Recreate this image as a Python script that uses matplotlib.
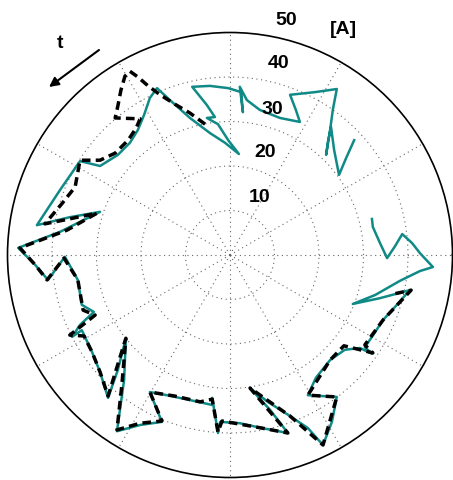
import numpy as np
import matplotlib
matplotlib.use("Agg")
import matplotlib.pyplot as plt

# current phasor trajectory, real / imaginary parts in A
meas_re = [27.9, 26.1, 24.5, 23.4, 22.7, 22.0, 21.6, 22.5, 23.1, 24.0,
           19.1, 13.5, 14.8, 15.7, 11.2, 6.7, 3.8, 2.2, 2.9, 2.5,
           -0.4, -4.5, -8.5, -5.2, -3.4, -5.2, -2.7, -0.4, 2.0, -1.1,
           -4.5, -9.0, -13.5, -16.4, -18.0, -19.3, -20.7, -22.5, -25.2, -29.2,
           -33.7, -38.2, -43.4, -36.0, -29.2, -38.2, -47.6, -43.8, -40.9, -37.1,
           -34.2, -33.3, -30.6, -33.7, -35.5, -33.3, -31.0, -29.2, -27.4, -25.2,
           -23.4, -23.8, -25.4, -20.2, -15.3, -18.0, -14.2, -9.0, -4.0, -4.0,
           -2.7, -2.2, 2.2, 7.2, 13.0, 9.0, 4.5, 8.5, 13.5, 17.5,
           20.9, 22.9, 24.0, 17.5, 19.3, 22.5, 25.8, 29.2, 31.9, 30.3,
           31.9, 34.4, 37.5, 40.4, 33.7, 27.6, 32.6, 38.2, 42.7, 45.6,
           42.7, 40.9, 38.7, 37.1, 35.3, 33.7, 32.1, 31.9]
meas_im = [25.8, 21.8, 18.0, 23.6, 28.8, 25.4, 22.5, 28.1, 32.6, 37.3,
           36.6, 36.0, 32.6, 29.9, 30.8, 32.6, 34.8, 37.8, 32.1, 36.6,
           37.5, 38.0, 37.8, 33.7, 31.0, 30.8, 29.4, 25.8, 22.7, 25.2,
           27.4, 30.8, 34.8, 37.5, 35.3, 31.5, 28.1, 25.2, 22.5, 20.0,
           21.1, 14.6, 6.7, 8.5, 9.7, 5.2, 1.6, -2.2, -5.6, -0.4,
           -5.6, -11.2, -12.8, -15.7, -18.4, -16.9, -21.8, -26.3, -32.1, -25.8,
           -18.7, -28.1, -39.6, -38.2, -37.5, -30.8, -31.5, -32.6, -33.7, -32.1,
           -40.0, -37.5, -37.8, -38.9, -40.0, -34.8, -29.9, -33.0, -36.2, -38.9,
           -42.7, -37.5, -31.9, -31.5, -27.6, -23.6, -21.3, -20.9, -22.2, -20.7,
           -18.4, -14.6, -11.2, -7.9, -9.7, -11.0, -9.0, -5.8, -3.6, -2.7,
           0.4, 2.7, 4.7, 2.0, -0.7, 2.7, 6.3, 8.1]

model_re = [-5.6, -9.0, -12.4, -15.7, -18.4, -20.7, -22.5, -23.6, -24.5, -25.2,
            -25.8, -20.2, -21.1, -22.9, -25.8, -29.2, -33.7, -34.8, -37.8, -41.6,
            -37.1, -29.9, -36.6, -47.2, -43.8, -41.1, -37.3, -34.2, -33.0, -30.3,
            -36.0, -32.8, -31.0, -29.2, -27.4, -23.4, -24.3, -25.4, -20.2, -15.3,
            -18.0, -12.4, -6.7, -4.0, -2.7, -1.8, 7.2, 13.0, 4.5, 13.5,
            20.9, 24.0, 17.5, 22.5, 25.6, 32.1, 30.3, 34.4, 40.7, 36.6]
model_im = [29.4, 31.9, 33.9, 36.0, 38.0, 40.0, 41.3, 40.2, 37.1, 33.5,
            30.8, 30.6, 28.5, 25.8, 22.9, 21.3, 21.3, 15.3, 11.5, 7.0,
            7.9, 9.4, 5.6, 1.6, -2.2, -5.6, -0.7, -5.6, -12.4, -13.5,
            -18.0, -18.2, -21.8, -26.3, -31.7, -18.7, -29.2, -39.3, -37.8, -37.3,
            -30.8, -31.7, -33.0, -32.4, -39.8, -37.3, -38.9, -40.0, -29.9, -36.2,
            -42.7, -31.9, -31.5, -23.6, -20.4, -22.0, -20.2, -14.6, -7.9, -8.8]

r_ticks = [10, 20, 30, 40, 50]
r_max = 50

meas = np.array(meas_re) + 1j * np.array(meas_im)
model = np.array(model_re) + 1j * np.array(model_im)

fig = plt.figure(figsize=(4.53, 4.80), dpi=100)
ax = fig.add_axes([7.5 / 453, 2.5 / 480, 445 / 453, 445 / 480], projection="polar")

ax.plot(np.angle(meas), np.abs(meas), color="#108a86", lw=1.8, zorder=3)
ax.plot(np.angle(model), np.abs(model), color="black", lw=2.5,
        linestyle=(0, (2.5, 1.5)), zorder=4)

ax.set_rlim(0, r_max)
ax.set_xticks(np.deg2rad(np.arange(0, 360, 30)))
ax.set_xticklabels([])
ax.set_yticks(r_ticks[:-1])
ax.set_yticklabels([])
ax.grid(True, color="#666666", lw=0.8, linestyle=(0, (1, 3.2)))
ax.spines["polar"].set_linewidth(1.2)
ax.spines["polar"].set_color("black")

font = dict(family=["Liberation Sans", "DejaVu Sans"], fontsize=14, fontweight="bold")

# radius labels placed along a ray just right of vertical
label_pos = {10: (63.2, 14.6), 20: (70.8, 24.3), 30: (73.9, 34.1),
             40: (75.7, 44.3), 50: (76.6, 54.2)}
for val in r_ticks:
    ang, rad = label_pos[val]
    ax.text(np.deg2rad(ang), rad, str(val), ha="center", va="center", **font)
ax.text(np.deg2rad(63.4), 56.7, "[A]", ha="center", va="center", **font)

# direction of time
fig.text(60 / 453, 1 - 43.5 / 480, "t", ha="center", va="center", **font)
ax.annotate("", xy=(49 / 453, 1 - 87 / 480), xytext=(99 / 453, 1 - 50 / 480),
            xycoords="figure fraction", textcoords="figure fraction",
            arrowprops=dict(arrowstyle="-|>", color="black", lw=1.5,
                            mutation_scale=14, shrinkA=0, shrinkB=0))

fig.savefig("out.png", dpi=100)
